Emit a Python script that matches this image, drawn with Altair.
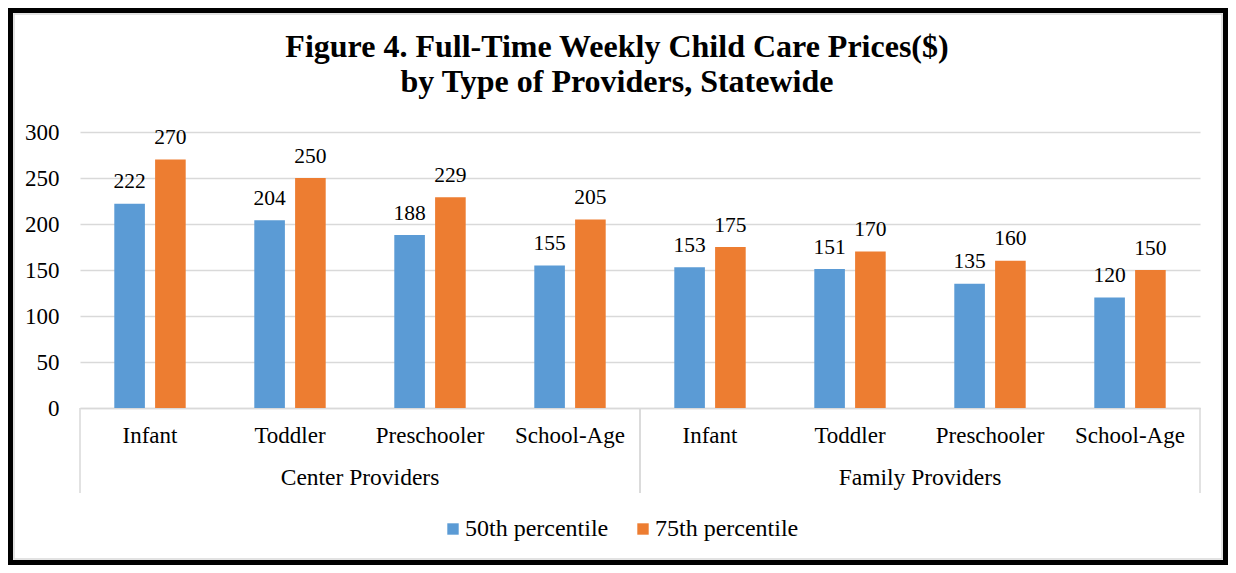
import altair as alt
import pandas as pd

groups = ["Center Providers", "Family Providers"]
categories = ["Infant", "Toddler", "Preschooler", "School-Age"]
series = ["50th percentile", "75th percentile"]
p50 = [222, 204, 188, 155, 153, 151, 135, 120]
p75 = [270, 250, 229, 205, 175, 170, 160, 150]
colors = ["#5B9BD5", "#ED7D31"]
title_lines = ["Figure 4. Full-Time Weekly Child Care Prices($)", "by Type of Providers, Statewide"]

rows = []
order = []
i = 0
for g in groups:
    for c in categories:
        key = g + "|" + c
        order.append(key)
        rows.append({"group": g, "cat": key, "series": series[0], "value": p50[i]})
        rows.append({"group": g, "cat": key, "series": series[1], "value": p75[i]})
        i += 1
df = pd.DataFrame(rows)
gdf = pd.DataFrame({"group": groups})
one = pd.DataFrame({"a": [1]})

FONT = "'Times New Roman', 'Liberation Serif', 'DejaVu Serif', serif"
W, H = 1120, 276

xscale = alt.Scale(paddingInner=0.49, paddingOuter=0.245)
xcat = alt.X("cat:N", sort=order, scale=xscale,
             axis=alt.Axis(title=None, labelAngle=0, ticks=False, domainColor="#d9d9d9", domainWidth=1.5,
                           labelFont=FONT, labelFontSize=23, labelColor="black", labelPadding=16,
                           labelExpr="split(datum.value, '|')[1]", grid=False))
xoff = alt.XOffset("series:N", sort=series, scale=alt.Scale(paddingInner=0.25, paddingOuter=0))
ysc = alt.Y("value:Q", scale=alt.Scale(domain=[0, 300]),
            axis=alt.Axis(title=None, values=[0, 50, 100, 150, 200, 250, 300], domain=False, ticks=False,
                          gridColor="#d9d9d9", gridWidth=1.5, labelFont=FONT, labelFontSize=23,
                          labelColor="black", labelPadding=21))

bars = alt.Chart(df).mark_bar().encode(
    x=xcat, xOffset=xoff, y=ysc,
    color=alt.Color("series:N", sort=series, scale=alt.Scale(domain=series, range=colors),
                    legend=alt.Legend(title=None, orient="none", legendX=361, legendY=385,
                                      direction="horizontal", symbolType="square", symbolSize=130,
                                      symbolStrokeWidth=0, labelFont=FONT, labelFontSize=24,
                                      labelColor="black", columnPadding=22, labelOffset=0)),
)

labels = alt.Chart(df).mark_text(font=FONT, fontSize=21.5, color="black", baseline="alphabetic", dy=-15.5).encode(
    x=alt.X("cat:N", sort=order, scale=xscale, axis=None),
    xOffset=xoff,
    y=ysc,
    text="value:Q",
)

gscale = alt.Scale(type="band", domain=groups, paddingInner=0, paddingOuter=0)
gtext = alt.Chart(gdf).mark_text(font=FONT, fontSize=23.5, color="black", baseline="middle").encode(
    x=alt.X("group:N", scale=gscale, axis=None),
    y=alt.value(346),
    text="group:N",
)
sep_left = alt.Chart(gdf).mark_rule(color="#d9d9d9", strokeWidth=1.5).encode(
    x=alt.X("group:N", scale=gscale, axis=None, bandPosition=0),
    y=alt.value(H), y2=alt.value(361),
)
sep_right = alt.Chart(gdf).mark_rule(color="#d9d9d9", strokeWidth=1.5).encode(
    x=alt.X("group:N", scale=gscale, axis=None, bandPosition=1),
    y=alt.value(H), y2=alt.value(361),
)

title1 = alt.Chart(pd.DataFrame({"t": [title_lines[0]]})).mark_text(
    font=FONT, fontSize=32, fontWeight="bold", color="black", baseline="alphabetic", align="center"
).encode(x=alt.value(537), y=alt.value(-75), text="t:N")
title2 = alt.Chart(pd.DataFrame({"t": [title_lines[1]]})).mark_text(
    font=FONT, fontSize=32, fontWeight="bold", color="black", baseline="alphabetic", align="center"
).encode(x=alt.value(537), y=alt.value(-40), text="t:N")

frame_outer = alt.Chart(one).mark_rect(filled=False, stroke="black", strokeWidth=5).encode(
    x=alt.value(-69.5), x2=alt.value(1145.5), y=alt.value(-121.5), y2=alt.value(430.5),
)
frame_inner = alt.Chart(one).mark_rect(filled=False, stroke="#d9d9d9", strokeWidth=1.5).encode(
    x=alt.value(-66), x2=alt.value(1142), y=alt.value(-118), y2=alt.value(427),
)

chart = alt.layer(bars, labels, gtext, sep_left, sep_right, title1, title2, frame_outer, frame_inner).resolve_scale(
    x="independent"
).properties(
    width=W, height=H,
    autosize=alt.AutoSizeParams(type="none"),
    padding={"left": 72, "top": 124, "right": 28, "bottom": 157},
).configure_view(stroke=None)

chart.save("out.html", embed_options={"renderer": "svg", "actions": False})
